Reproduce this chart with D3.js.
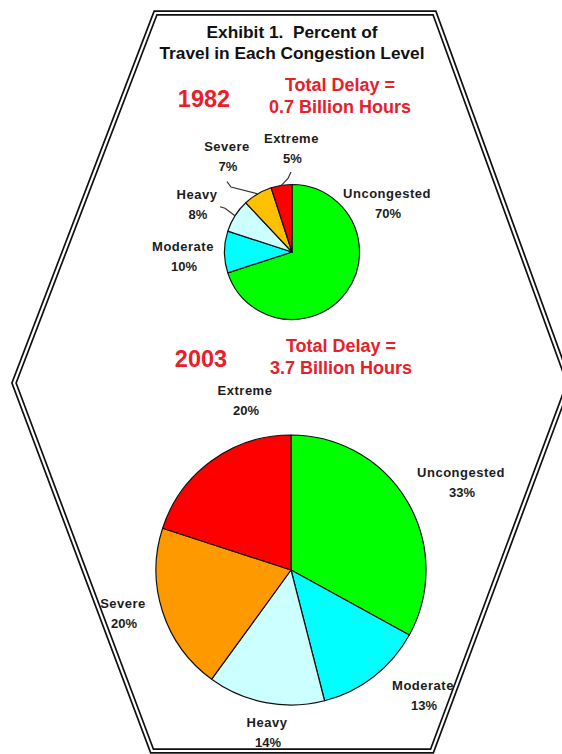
<!DOCTYPE html>
<html>
<head>
<meta charset="utf-8">
<script src="https://cdn.jsdelivr.net/npm/d3@7/dist/d3.min.js"></script>
<style>
  html, body { margin: 0; padding: 0; background: #fff; }
  svg { display: block; }
  text { font-family: "Liberation Sans", Arial, Helvetica, sans-serif; font-weight: bold; white-space: pre; }
</style>
</head>
<body>
<svg id="chart" width="562" height="754"></svg>
<script>
// ---- data ----
const categories = ["Uncongested", "Moderate", "Heavy", "Severe", "Extreme"];
const values1982 = [70, 10, 8, 7, 5];
const values2003 = [33, 13, 14, 20, 20];
const years = ["1982", "2003"];
const delayHours = ["0.7", "3.7"];
const titleLines = ["Exhibit 1.  Percent of", "Travel in Each Congestion Level"];

// ---- styles / layout ----
const colors1982 = ["#00FF00", "#00FFFF", "#CCFFFF", "#FFC000", "#FF0000"];
const colors2003 = ["#00FF00", "#00FFFF", "#CCFFFF", "#FF9900", "#FF0000"];
const red = "#E8202A";
const labelColor = "#1c1c1c";

const svg = d3.select("#chart");

// hexagon frame (double line)
const hex = [[155.5, 13], [434.5, 13], [569, 383], [432, 751], [152, 751], [14, 383]];
const hexPath = d3.line()(hex) + "Z";
svg.append("path").attr("d", hexPath).attr("fill", "none")
  .attr("stroke", "#111").attr("stroke-width", 5.6).attr("stroke-linejoin", "miter");
svg.append("path").attr("d", hexPath).attr("fill", "none")
  .attr("stroke", "#fff").attr("stroke-width", 2.2).attr("stroke-linejoin", "miter");

// title
svg.selectAll("text.title").data(titleLines).enter().append("text")
  .attr("class", "title")
  .attr("x", 292).attr("y", (d, i) => 37.5 + i * 21)
  .attr("text-anchor", "middle").attr("font-size", 17.3).attr("fill", "#111")
  .attr("xml:space", "preserve")
  .text(d => d);

// pie charts
const charts = [
  {
    values: values1982, colors: colors1982, cx: 292, cy: 252, r: 67.5,
    yearPos: [204, 107], delayPos: [340, 90.5], delayGap: 22.5,
    labels: [[387, 198], [183, 251], [197, 199], [227, 151], [291.5, 143]],
    pctGap: 20,
    leaders: [null, null,
      [[220, 206.7], [225, 208.3]],
      [[227, 181.7], [231, 187]],
      [[291, 172], [288, 178.5]]]
  },
  {
    values: values2003, colors: colors2003, cx: 291, cy: 570, r: 135,
    yearPos: [201, 366.5], delayPos: [341, 351.5], delayGap: 22,
    labels: [[461, 477], [423, 690], [267, 727], [123, 608], [245, 395]],
    pctGap: 20,
    leaders: [null, null, null, null, null]
  }
];

const pie = d3.pie().sort(null).value(d => d);

charts.forEach((c, ci) => {
  const g = svg.append("g").attr("transform", `translate(${c.cx},${c.cy})`);
  const arc = d3.arc().innerRadius(0).outerRadius(c.r);
  const edge = d3.arc().innerRadius(c.r).outerRadius(c.r);
  const arcs = pie(c.values);

  g.selectAll("path.slice").data(arcs).enter().append("path")
    .attr("class", "slice")
    .attr("d", arc)
    .attr("fill", (d, i) => c.colors[i])
    .attr("stroke", "#111").attr("stroke-width", 1.2).attr("stroke-linejoin", "round");

  // leader lines
  arcs.forEach((d, i) => {
    const L = c.leaders[i];
    if (!L) return;
    const end = edge.centroid(d);
    const pts = L.map(p => [p[0] - c.cx, p[1] - c.cy]).concat([end]);
    g.append("path").attr("d", d3.line()(pts))
      .attr("fill", "none").attr("stroke", "#333").attr("stroke-width", 1.2);
  });

  // labels
  arcs.forEach((d, i) => {
    const [lx, ly] = c.labels[i];
    svg.append("text").attr("x", lx).attr("y", ly)
      .attr("text-anchor", "middle").attr("font-size", 13)
      .attr("letter-spacing", 0.5).attr("fill", labelColor)
      .text(categories[i]);
    svg.append("text").attr("x", lx + 1).attr("y", ly + c.pctGap)
      .attr("text-anchor", "middle").attr("font-size", 13)
      .attr("fill", labelColor)
      .text(c.values[i] + "%");
  });

  // year & delay
  svg.append("text").attr("x", c.yearPos[0]).attr("y", c.yearPos[1])
    .attr("text-anchor", "middle").attr("font-size", 23.5).attr("fill", red)
    .text(years[ci]);
  svg.append("text").attr("x", c.delayPos[0]).attr("y", c.delayPos[1])
    .attr("text-anchor", "middle").attr("font-size", 18).attr("fill", red)
    .text("Total Delay =");
  svg.append("text").attr("x", c.delayPos[0]).attr("y", c.delayPos[1] + c.delayGap)
    .attr("text-anchor", "middle").attr("font-size", 18).attr("fill", red)
    .text(delayHours[ci] + " Billion Hours");
});
</script>
</body>
</html>
